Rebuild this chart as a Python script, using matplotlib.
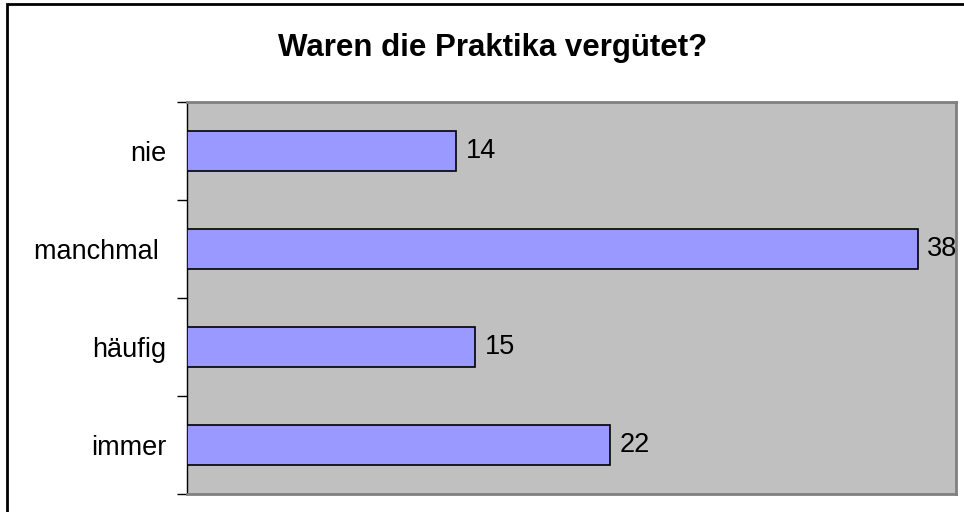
import matplotlib
matplotlib.use("Agg")
import matplotlib.pyplot as plt
from matplotlib.patches import Rectangle

categories = ["nie", "manchmal ", "häufig", "immer"]
values = [14, 38, 15, 22]
title = "Waren die Praktika vergütet?"

plt.rcParams['font.family'] = ['Liberation Sans', 'DejaVu Sans']

fig = plt.figure(figsize=(9.64, 5.12), dpi=100)
fig.patch.set_facecolor('white')
fig.patches.append(Rectangle((7/964, -0.1), 1.2, 1 - 4/512 + 0.1, transform=fig.transFigure,
                             fill=False, edgecolor='black', linewidth=2, zorder=0))

ax = fig.add_axes([187/964, 1-494/512, (956-187)/964, (494-102)/512])
ax.set_facecolor('#C0C0C0')

n = len(categories)
ypos = list(range(n))[::-1]
ax.barh(ypos, values, height=0.41, color='#9999FF', edgecolor='black', linewidth=1.2, zorder=3)
for y, v in zip(ypos, values):
    ax.annotate(str(v), xy=(v, y), xytext=(7, 0), textcoords='offset points',
                va='center', ha='left', fontsize=19.5, color='black',
                annotation_clip=False, zorder=4)

ax.set_xlim(0, 40)
ax.set_ylim(-0.5, n - 0.5)
ax.set_xticks([])
ax.set_yticks([i - 0.5 for i in range(n + 1)])
ax.set_yticklabels([])
ax.tick_params(axis='y', which='major', length=7, width=1, direction='out', color='black')
ax.set_yticks(ypos, minor=True)
ax.set_yticklabels(categories, minor=True, fontsize=19.5)
ax.tick_params(axis='y', which='minor', length=0, pad=15)

for s in ['top', 'right', 'bottom']:
    ax.spines[s].set_color('#808080')
    ax.spines[s].set_linewidth(2)
ax.spines['left'].set_color('black')
ax.spines['left'].set_linewidth(1)

fig.text(493/964, 1 - 48/512, title, ha='center', va='center', fontsize=22.5, fontweight='bold')

fig.savefig('out.png', dpi=100)
